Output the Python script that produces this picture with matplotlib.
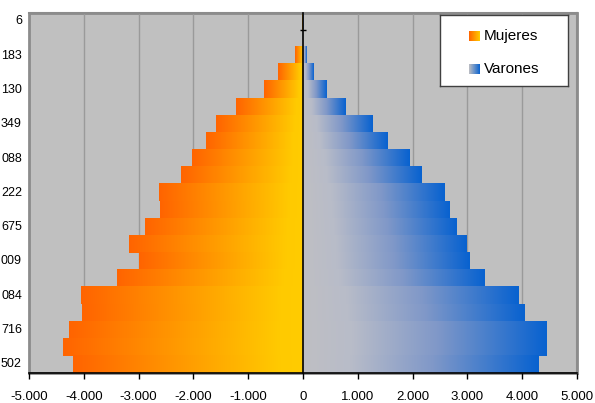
import matplotlib
matplotlib.use("Agg")
import matplotlib.pyplot as plt
import numpy as np
from matplotlib.colors import LinearSegmentedColormap
from matplotlib.patches import Rectangle
from matplotlib.transforms import blended_transform_factory
from matplotlib.ticker import FuncFormatter

plt.rcParams['font.family'] = ['Liberation Sans', 'DejaVu Sans']

# --- data (top bar first) ---
mujeres = [-10, 0, -150, -450, -710, -1220, -1590, -1770, -2030, -2230, -2630,
           -2610, -2880, -3180, -2990, -3390, -4050, -4030, -4270, -4380, -4200]
varones = [5, 0, 55, 200, 420, 780, 1260, 1550, 1950, 2170, 2590,
           2670, 2810, 2990, 3030, 3320, 3940, 4050, 4450, 4450, 4290]
etiquetas = ["6", "183", "130", "349", "088", "222", "675", "009", "084", "716", "502"]
x_ticks = [-5000, -4000, -3000, -2000, -1000, 0, 1000, 2000, 3000, 4000, 5000]

cmap_muj = LinearSegmentedColormap.from_list("muj", [(0, "#FF6400"), (0.35, "#FF8C00"), (0.9, "#FFCA00"), (1, "#FFCC00")])
cmap_var = LinearSegmentedColormap.from_list("var", [(0, "#BFBFC3"), (0.2, "#B8BCC9"), (0.55, "#8098C8"), (1, "#0862D0")])
grad = np.linspace(0, 1, 256).reshape(1, -1)

fig = plt.figure(figsize=(5.95, 4.03), dpi=100)
ax = fig.add_axes([29 / 595, 1 - 373 / 403, 548 / 595, 360.3 / 403])
ax.set_facecolor("#C0C0C0")

n = len(mujeres)

for i, (m, v) in enumerate(zip(mujeres, varones)):
    if m < 0:
        ax.imshow(grad, cmap=cmap_muj, extent=[m, 0, i + 1, i], aspect="auto",
                  interpolation="bilinear", zorder=2)
    if v > 0:
        ax.imshow(grad, cmap=cmap_var, extent=[0, v, i + 1, i], aspect="auto",
                  interpolation="bilinear", zorder=2)
ax.set_xlim(-5000, 5000)
ax.set_ylim(n, 0)

# grid
for xv in x_ticks[1:-1]:
    if xv != 0:
        ax.axvline(xv, color="#9A9A9A", lw=1, zorder=1)

# frame
for s in ["top", "right"]:
    ax.spines[s].set_color("#8C8C8C")
    ax.spines[s].set_linewidth(1.5)
ax.spines["bottom"].set_color("black")
ax.spines["bottom"].set_linewidth(1.2)
ax.spines["left"].set_position(("data", 0))
ax.spines["left"].set_color("black")
ax.spines["left"].set_linewidth(1.2)
ax.spines["left"].set_zorder(3)
ax.add_patch(Rectangle((0, 0), 1, 1, transform=ax.transAxes, fill=False,
                       edgecolor="#8C8C8C", lw=2, zorder=0.5, clip_on=False))

ax.set_xticks(x_ticks)
ax.xaxis.set_major_formatter(FuncFormatter(lambda x, p: f"{int(x):,}".replace(",", ".")))
ax.tick_params(axis="x", direction="out", length=4, width=1, pad=9, labelsize=9.5)

ax.set_yticks(np.arange(1, n))
ax.set_yticklabels([])
ax.tick_params(axis="y", direction="inout", length=5, width=1)

tr = blended_transform_factory(ax.transAxes, ax.transData)
for k, lab in enumerate(etiquetas):
    ax.text(-0.013, 2 * k + 0.5, lab, transform=tr, ha="right", va="center", fontsize=9)

# legend
lax = fig.add_axes([440 / 595, 1 - 86 / 403, 128 / 595, 71 / 403])
lax.set_xticks([])
lax.set_yticks([])
for s in lax.spines.values():
    s.set_color("#404040")
    s.set_linewidth(1)
lax.imshow(grad, cmap=LinearSegmentedColormap.from_list("lm", ["#FF6400", "#FFCC00"]),
           extent=[0.23, 0.31, 0.64, 0.78], aspect="auto", zorder=2)
lax.imshow(grad, cmap=LinearSegmentedColormap.from_list("lv", ["#BFBFC3", "#0862D0"]),
           extent=[0.23, 0.31, 0.17, 0.31], aspect="auto", zorder=2)
lax.set_xlim(0, 1)
lax.set_ylim(0, 1)
lax.text(0.34, 0.71, "Mujeres", va="center", ha="left", fontsize=11)
lax.text(0.34, 0.24, "Varones", va="center", ha="left", fontsize=11)

fig.savefig("out.png", dpi=100)
